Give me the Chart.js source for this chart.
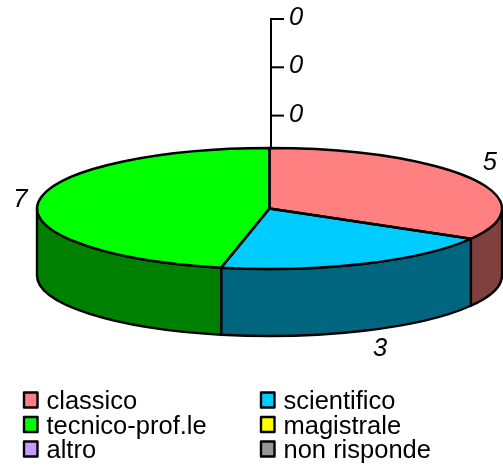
<!DOCTYPE html>
<html><head><meta charset="utf-8">
<style>html,body{margin:0;padding:0;background:#fff}canvas{display:block}</style>
<script src="https://cdn.jsdelivr.net/npm/chart.js@4"></script></head>
<body><canvas id="c" width="503" height="465"></canvas>
<script>
const categories=["classico","scientifico","tecnico-prof.le","magistrale","altro","non risponde"];
const values=[5,3,7,0,0,0];
const topColors=["#FF8080","#00CCFF","#00FF00","#FFFF00","#CC99FF","#969696"];
const sideColors=["#804040","#006680","#008000","#808000","#664C80","#4B4B4B"];
const axisTicks=["0","0","0"];

const CY=208.5, RY=60.5, DEPTH=67;
const FONT='"Liberation Sans", Arial, sans-serif';

function geom(a){return {cx:a.x,rx:a.outerRadius,ry:RY};}

const pie3d={
  id:'pie3d',
  beforeDatasetsDraw(chart){
    const ctx=chart.ctx, arcs=chart.getDatasetMeta(0).data;
    ctx.save();
    ctx.strokeStyle='#000';ctx.lineWidth=2;
    ctx.beginPath();ctx.moveTo(271,18);ctx.lineTo(271,150);ctx.stroke();
    ctx.fillStyle='#000';ctx.font='italic 25.5px '+FONT;ctx.textAlign='left';ctx.textBaseline='middle';
    axisTicks.forEach((t,i)=>{
      const y=19+i*48.3;
      ctx.beginPath();ctx.moveTo(271,y);ctx.lineTo(284,y);ctx.stroke();
      ctx.fillText(t,289,y-1);
    });
    ctx.lineJoin='round';
    arcs.forEach((a,i)=>{
      if(values[i]===0)return;
      const g=geom(a);
      const s=Math.max(a.startAngle,0), e=Math.min(a.endAngle,Math.PI);
      if(e<=s)return;
      ctx.beginPath();
      ctx.ellipse(g.cx,CY,g.rx,g.ry,0,s,e,false);
      ctx.lineTo(g.cx+g.rx*Math.cos(e),CY+g.ry*Math.sin(e)+DEPTH);
      ctx.ellipse(g.cx,CY+DEPTH,g.rx,g.ry,0,e,s,true);
      ctx.closePath();
      ctx.fillStyle=sideColors[i];ctx.fill();
      ctx.strokeStyle='#000';ctx.lineWidth=2.4;ctx.stroke();
    });
    ctx.restore();
    const a0=arcs[0];
    ctx.save();
    ctx.translate(0,CY);ctx.scale(1,RY/a0.outerRadius);ctx.translate(0,-a0.y);
  },
  afterDatasetsDraw(chart){
    const ctx=chart.ctx, arcs=chart.getDatasetMeta(0).data;
    ctx.restore();
    ctx.save();
    ctx.strokeStyle='#000';ctx.lineWidth=2.4;ctx.lineJoin='round';
    arcs.forEach((a,i)=>{
      if(values[i]===0)return;
      const g=geom(a);
      ctx.beginPath();
      ctx.moveTo(g.cx,CY);
      ctx.ellipse(g.cx,CY,g.rx,g.ry,0,a.startAngle,a.endAngle,false);
      ctx.closePath();ctx.stroke();
    });
    ctx.fillStyle='#000';ctx.font='italic 25.5px '+FONT;ctx.textAlign='center';ctx.textBaseline='middle';
    arcs.forEach((a,i)=>{
      if(values[i]===0)return;
      const g=geom(a), m=(a.startAngle+a.endAngle)/2, sn=Math.sin(m), cs=Math.cos(m);
      const x=g.cx+(g.rx+(cs<0?18:22))*cs+(sn>0.5?7:0);
      const y=CY+sn*(RY+32+(sn>0?60:0))+1;
      ctx.fillText(String(values[i]),x,y);
    });
    ctx.font='25.5px '+FONT;ctx.textAlign='left';
    categories.forEach((c,i)=>{
      const col=i%2,row=Math.floor(i/2);
      const x=col?261:24, y=400+row*24.5;
      ctx.fillStyle=topColors[i];ctx.fillRect(x,y-7.5,13.5,15);
      ctx.strokeStyle='#000';ctx.lineWidth=2.4;ctx.strokeRect(x,y-7.5,13.5,15);
      ctx.fillStyle='#000';ctx.fillText(c,x+22.5,y+2);
    });
    ctx.restore();
  }
};

new Chart(document.getElementById('c'),{
  type:'pie',
  data:{labels:categories,datasets:[{data:values,backgroundColor:topColors,borderWidth:0}]},
  options:{
    responsive:false,animation:false,
    layout:{padding:{left:36}},
    plugins:{legend:{display:false},tooltip:{enabled:false},title:{display:false}}
  },
  plugins:[pie3d]
});
</script></body></html>
